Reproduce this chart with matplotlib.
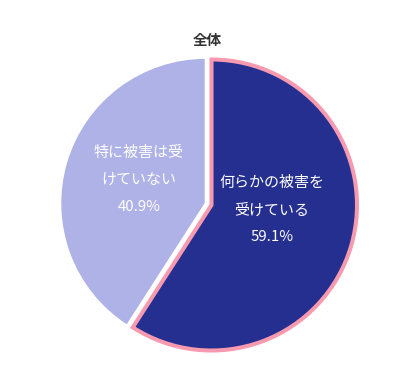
import matplotlib
matplotlib.use("Agg")
import matplotlib.pyplot as plt

plt.rcParams['font.family'] = ['Noto Sans CJK JP', 'DejaVu Sans']

title = "全体"
categories = ["何らかの被害を\n受けている", "特に被害は受\nけていない"]
values = [59.1, 40.9]
colors = ["#252F90", "#AEB2E7"]
edge_colors = ["#F79AB0", "white"]
edge_widths = [2.9, 1.5]

W, H = 412, 381
cx, cy, R = 211.5, H - 205, 145.5
explode = [0.0, 6.0]  # offset in pixels (data units)

fig = plt.figure(figsize=(W / 100, H / 100), dpi=100)
ax = fig.add_axes([0, 0, 1, 1])

wedges, _ = ax.pie(values, colors=colors, startangle=90, counterclock=False,
                   explode=explode, center=(cx, cy), radius=R, frame=True)
ax.set_xlim(0, W)
ax.set_ylim(0, H)
ax.set_aspect('equal')
ax.axis('off')
for w, ec, lw in zip(wedges, edge_colors, edge_widths):
    w.set_edgecolor(ec)
    w.set_linewidth(lw)

label_pos = [(272, H - 210), (139, H - 180)]
for cat, v, (x, y) in zip(categories, values, label_pos):
    ax.text(x, y, f"{cat}\n{v}%", ha='center', va='center', color='white',
            fontsize=10.8, linespacing=2.15)

ax.text(207, H - 40, title, ha='center', va='center', color='#333333',
        fontsize=10.5, fontweight='bold')

fig.savefig("out.png", dpi=100)
